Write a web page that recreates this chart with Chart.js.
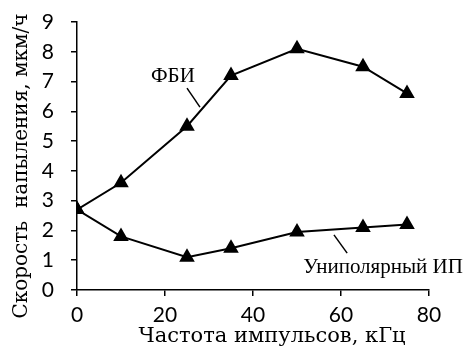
<!DOCTYPE html>
<html>
<head>
<meta charset="utf-8">
<script src="https://cdn.jsdelivr.net/npm/chart.js@4"></script>
<style>
  html, body { margin: 0; padding: 0; background: #fff; }
  #wrap { width: 472px; height: 346px; }
</style>
</head>
<body>
<div id="wrap"><canvas id="grafico"></canvas></div>
<script>
// dados
const frequencias = [0, 10, 25, 35, 50, 65, 75]
const fbi = [2.7, 3.6, 5.5, 7.2, 8.1, 7.5, 6.6]
const unipolar = [2.7, 1.8, 1.1, 1.4, 1.95, 2.1, 2.2]
const nomesSeries = ['ФБИ', 'Униполярный ИП']
const tituloX = 'Частота импульсов, кГц'
const tituloY = 'Скорость  напыления, мкм/ч'

// anotações com linha indicadora (em unidades dos eixos)
const anotacoes = [
    { texto: nomesSeries[0], x: 21.8, y: 7.18, align: 'center', linha: [25, 6.78, 27.95, 6.14] },
    { texto: nomesSeries[1], x: 51.4, y: 0.74, align: 'left', linha: [58.4, 1.85, 61.4, 1.24] }
]

const pontos = (ys) => frequencias.map((f, i) => ({ x: f, y: ys[i] }))

// textos das anotações e títulos dos eixos
const pluginTextos = {
    id: 'textos',
    afterDatasetsDraw(chart) {
        const ctx = chart.ctx
        const sx = chart.scales.x
        const sy = chart.scales.y
        const area = chart.chartArea
        ctx.save()
        ctx.fillStyle = '#000'
        ctx.strokeStyle = '#000'
        ctx.lineWidth = 1.5
        ctx.font = '21px "Liberation Serif", serif'
        ctx.textBaseline = 'middle'
        anotacoes.forEach(a => {
            ctx.textAlign = a.align
            ctx.fillText(a.texto, sx.getPixelForValue(a.x), sy.getPixelForValue(a.y))
            ctx.beginPath()
            ctx.moveTo(sx.getPixelForValue(a.linha[0]), sy.getPixelForValue(a.linha[1]))
            ctx.lineTo(sx.getPixelForValue(a.linha[2]), sy.getPixelForValue(a.linha[3]))
            ctx.stroke()
        })

        // título X
        ctx.textAlign = 'center'
        ctx.font = '21px "DejaVu Serif", serif'
        ctx.fillText(tituloX, area.left + 195, area.bottom + 47)

        // título Y
        ctx.translate(22, area.top + 144)
        ctx.rotate(-Math.PI / 2)
        ctx.font = '20px "DejaVu Serif", serif'
        ctx.fillText(tituloY, 0, 0)
        ctx.restore()
    }
}

const estiloSerie = {
    borderColor: '#000',
    backgroundColor: '#000',
    borderWidth: 2,
    pointStyle: 'triangle',
    pointRadius: 7,
    pointHoverRadius: 7,
    tension: 0
}

new Chart(document.getElementById('grafico'), {
    type: 'line',
    data: {
        datasets: [
            { label: nomesSeries[0], data: pontos(fbi), ...estiloSerie },
            { label: nomesSeries[1], data: pontos(unipolar), ...estiloSerie }
        ]
    },
    options: {
        responsive: true,
        maintainAspectRatio: false,
        animation: false,
        layout: { padding: { left: 0, right: 43, top: 22, bottom: 0 } },
        plugins: { legend: { display: false }, tooltip: { enabled: false } },
        scales: {
            x: {
                type: 'linear',
                min: 0,
                max: 80,
                ticks: { stepSize: 20, color: '#000', padding: 7, font: { family: 'Lato', size: 21 } },
                grid: { drawOnChartArea: false, drawTicks: true, tickLength: 6, color: '#000', lineWidth: 1.5 },
                border: { color: '#000', width: 1.5 },
                afterFit: (s) => { s.height = 56 }
            },
            y: {
                min: 0,
                max: 9,
                // lineHeight baixo para o padding dos rótulos não empurrar o topo do gráfico
                ticks: { stepSize: 1, autoSkip: false, color: '#000', padding: 17, font: { family: 'Lato', size: 21, lineHeight: 0.4 } },
                grid: { drawOnChartArea: false, drawTicks: true, tickLength: 6, color: '#000', lineWidth: 1.5 },
                border: { color: '#000', width: 1.5 },
                afterFit: (s) => { s.width = 77 }
            }
        }
    },
    plugins: [pluginTextos]
})
</script>
</body>
</html>
